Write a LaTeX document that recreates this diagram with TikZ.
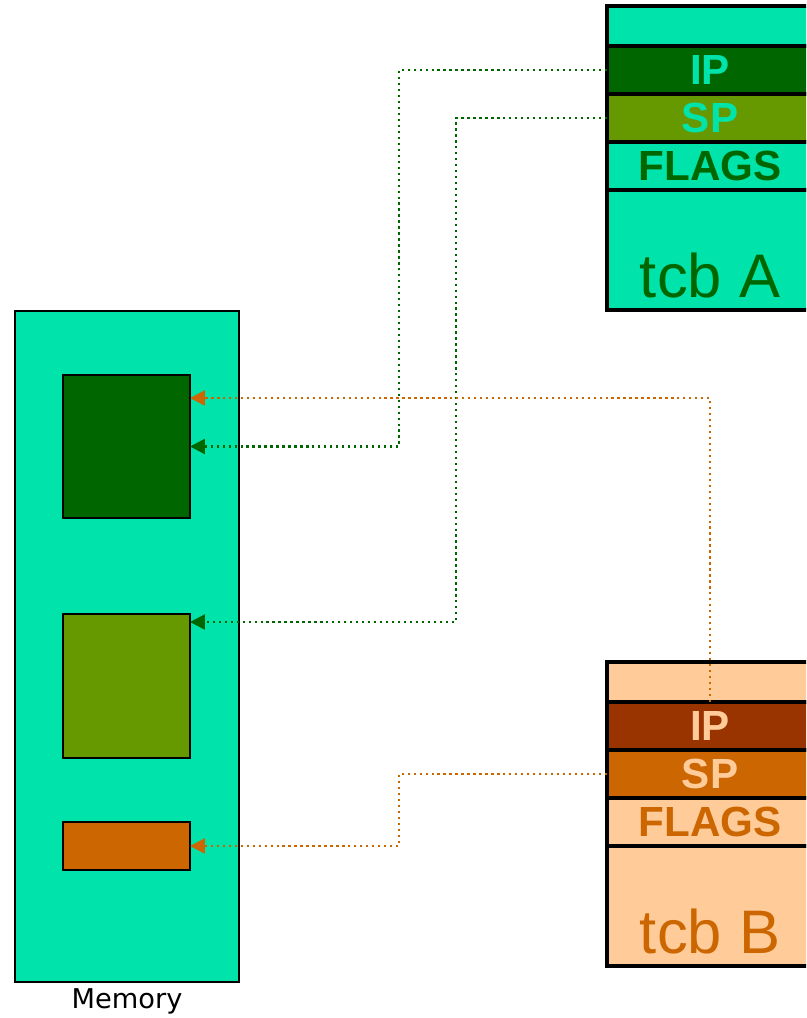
\documentclass[tikz,border=0pt]{standalone}
\usepackage{fontspec}
\setmainfont{Liberation Sans}
\newfontfamily\memfont{DejaVu Sans}
\usepackage{tikz}
\usetikzlibrary{arrows.meta, calc}
\definecolor{tealbg}{HTML}{00E3AA}
\definecolor{ipgreen}{HTML}{006600}
\definecolor{spolive}{HTML}{669900}
\definecolor{rust}{HTML}{993300}
\definecolor{burnt}{HTML}{CC6600}
\definecolor{peach}{HTML}{FFCC99}

\tikzset{
  field/.style={draw, line width=2pt, minimum width=4.12cm, minimum height=0.96cm,
    inner sep=0pt, outer sep=0pt, font=\bfseries\fontsize{24}{27}\selectfont},
  tcbname/.style={inner sep=0pt, font=\fontsize{35}{40}\selectfont},
  block/.style={draw, line width=1.1pt, minimum width=2.54cm, inner sep=0pt, outer sep=0pt},
  link/.style={line width=1.4pt, dash pattern=on 1.3pt off 2.1pt,
    -{Triangle[length=8.5pt,width=8.5pt]}}
}

\begin{document}
\begin{tikzpicture}[x=0.02cm, y=-0.02cm]
\useasboundingbox (0,0) rectangle (806,1018);
\clip (0,0) rectangle (806,1018);

% memory with its three regions
\node[draw, line width=1.1pt, fill=tealbg, minimum width=4.48cm, minimum height=13.42cm,
  inner sep=0pt, outer sep=0pt] (mem) at (127,646.5) {};
\node[block, fill=ipgreen, minimum height=2.86cm] (codeA) at (126.5,446.5) {};
\node[block, fill=spolive, minimum height=2.88cm] (stackA) at (126.5,686) {};
\node[block, fill=burnt, minimum height=0.96cm] (heapB) at (126.5,846) {};
\node[anchor=base, inner sep=0pt, font=\memfont\fontsize{15.5}{18}\selectfont] (memlabel) at (127,1008) {Memory};

% tcb A
\node[field, fill=tealbg, minimum height=0.8cm] (topA) at (710,26) {};
\node[field, fill=ipgreen, text=tealbg] (ipA) at (710,70) {IP};
\node[field, fill=spolive, text=tealbg] (spA) at (710,118) {SP};
\node[field, fill=tealbg, text=ipgreen] (flagsA) at (710,166) {FLAGS};
\node[field, fill=tealbg, minimum height=2.4cm] (restA) at (710,250) {};
\node[tcbname, text=ipgreen] (nameA) at (710,275.5) {tcb A};

% tcb B
\node[field, fill=peach, minimum height=0.8cm] (topB) at (710,682) {};
\node[field, fill=rust, text=peach] (ipB) at (710,726) {IP};
\node[field, fill=burnt, text=peach] (spB) at (710,774) {SP};
\node[field, fill=peach, text=burnt] (flagsB) at (710,822) {FLAGS};
\node[field, fill=peach, minimum height=2.4cm] (restB) at (710,906) {};
\node[tcbname, text=burnt] (nameB) at (710,931.5) {tcb B};

% pointers into memory
\coordinate (laneA) at (399,0);
\coordinate (laneB) at (456,0);
\draw[link, ipgreen] (ipA.west) -| (laneA |- codeA.east) -- (codeA.east);
\draw[link, ipgreen] (spA.west) -| ($(laneB |- stackA.north)+(0,8)$) -- ($(stackA.north east)+(0,8)$);
\draw[link, burnt] (ipB.north) |- ($(codeA.north east)+(0,23)$);
\draw[link, burnt] (spB.west) -| (laneA |- heapB.east) -- (heapB.east);
\end{tikzpicture}
\end{document}
